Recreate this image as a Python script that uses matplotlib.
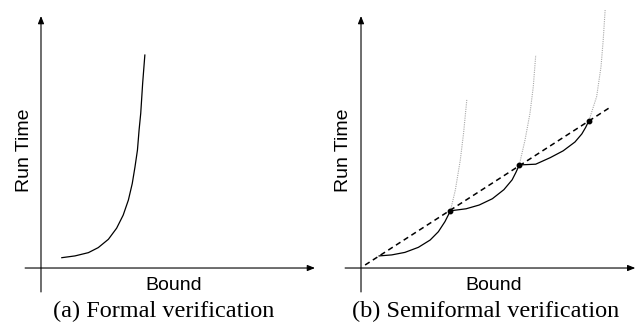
import matplotlib
matplotlib.use("Agg")
import matplotlib.pyplot as plt

# ---- data (arbitrary units: Bound on x, Run Time on y; axes span 0..10) ----
formal_x = [0.76, 1.24, 1.73, 2.09, 2.46, 2.76, 3.00, 3.19, 3.33, 3.43, 3.52,
            3.58, 3.64, 3.71, 3.79]
formal_y = [0.41, 0.48, 0.61, 0.81, 1.14, 1.58, 2.10, 2.70, 3.35, 4.01, 4.68,
            5.48, 6.14, 7.33, 8.45]

# semiformal: solid segments
seg1_x = [0.66, 1.12, 1.60, 2.09, 2.52, 2.82, 3.06, 3.26]
seg1_y = [0.48, 0.52, 0.62, 0.82, 1.11, 1.44, 1.84, 2.27]
seg2_x = [3.26, 3.83, 4.31, 4.79, 5.21, 5.51, 5.65, 5.77]
seg2_y = [2.27, 2.35, 2.50, 2.75, 3.11, 3.50, 3.80, 4.09]
seg3_x = [5.77, 6.37, 6.90, 7.37, 7.80, 8.05, 8.19, 8.31]
seg3_y = [4.09, 4.12, 4.38, 4.65, 5.00, 5.32, 5.58, 5.85]
# dotted continuations (formal run time beyond each checkpoint)
dotA_x = [3.26, 3.44, 3.62, 3.74, 3.86]
dotA_y = [2.27, 3.10, 4.29, 5.36, 6.71]
dotB_x = [5.77, 5.98, 6.16, 6.28, 6.37]
dotB_y = [4.09, 5.08, 6.14, 7.19, 8.45]
dotC_x = [8.31, 8.59, 8.75, 8.83, 8.90]
dotC_y = [5.85, 6.80, 7.99, 9.05, 10.24]
# checkpoints and linear trend
check_x = [3.26, 5.77, 8.31]
check_y = [2.27, 4.09, 5.85]
trend_x = [0.15, 9.03]
trend_y = [0.12, 6.34]

axis_lo, axis_hi = -0.58, 10.0
yaxis_lo = -0.95

fig = plt.figure(figsize=(6.44, 3.29), dpi=100)
axL = fig.add_axes([0, 0, 0.5, 1])
axR = fig.add_axes([0.5, 0, 0.5, 1])
axL.set_xlim(-1.496, 10.255)
axR.set_xlim(-1.422, 10.317)
for ax in (axL, axR):
    ax.set_ylim(-2.42, 10.635)
    ax.axis("off")
    aprops = dict(arrowstyle="-|>,head_length=0.45,head_width=0.18",
                  color="black", lw=0.8, shrinkA=0, shrinkB=0, mutation_scale=10)
    ax.annotate("", xy=(axis_hi, 0), xytext=(axis_lo, 0), arrowprops=aprops,
                annotation_clip=False)
    ax.annotate("", xy=(0, axis_hi), xytext=(0, yaxis_lo), arrowprops=aprops,
                annotation_clip=False)
    ax.text(4.85, -0.68, "Bound", ha="center", va="center", fontsize=14,
            family="Liberation Sans")
    ax.text(-0.62, 4.68, "Run Time", ha="center", va="center", fontsize=14,
            rotation=90, family="Liberation Sans")

axL.plot(formal_x, formal_y, color="black", lw=0.9, clip_on=False,
         solid_joinstyle="round")
axL.text(4.47, -1.71, "(a) Formal verification", ha="center", va="center",
         fontsize=17.5, family="Liberation Serif")

for dx, dy in ((dotA_x, dotA_y), (dotB_x, dotB_y), (dotC_x, dotC_y)):
    axR.plot(dx, dy, color="#a8a8a8", lw=0.8, ls=(0, (1, 1)), clip_on=False)
axR.plot(trend_x, trend_y, color="black", lw=1.1, ls=(0, (3.5, 2.5)))
for sx, sy in ((seg1_x, seg1_y), (seg2_x, seg2_y), (seg3_x, seg3_y)):
    axR.plot(sx, sy, color="black", lw=0.9, solid_joinstyle="round")
axR.plot(check_x, check_y, "o", color="black", ms=3.2)
axR.text(4.56, -1.71, "(b) Semiformal verification", ha="center", va="center",
         fontsize=17.5, family="Liberation Serif")

fig.savefig("out.png", dpi=100)
